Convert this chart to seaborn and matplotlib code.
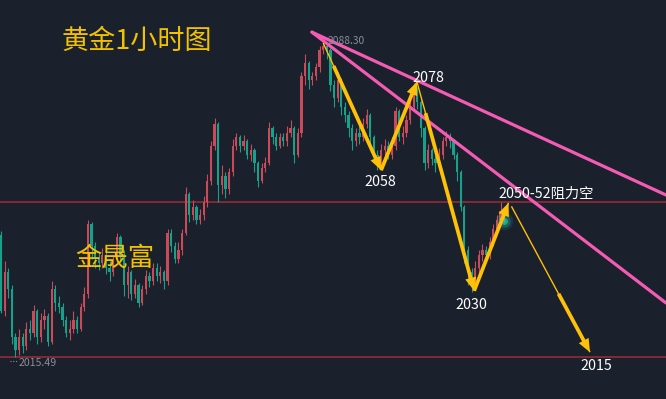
import matplotlib
matplotlib.use("Agg")
import matplotlib.pyplot as plt
import seaborn as sns
import numpy as np
import pandas as pd
from matplotlib.patches import FancyArrowPatch

# ---------------- data (gold 1h candles) ----------------
opens = [2043.5, 2026, 2035, 2031, 2020, 2017, 2020, 2018, 2022, 2021,
         2026, 2020, 2024, 2025, 2019, 2031, 2028, 2027, 2024, 2021,
         2022, 2024, 2022, 2027, 2030, 2046, 2041, 2038, 2037, 2039,
         2036, 2035, 2038, 2043, 2039, 2032, 2035, 2030, 2032, 2028,
         2031, 2034, 2033, 2036, 2034, 2035, 2033, 2044, 2041, 2038,
         2040, 2044, 2053, 2048, 2050, 2047, 2048, 2051, 2056, 2064,
         2069, 2055, 2057, 2054, 2058, 2064, 2066, 2064, 2065, 2062,
         2063, 2060, 2056, 2059, 2060, 2068, 2066, 2064, 2066, 2065,
         2067, 2068, 2062, 2067, 2080, 2083, 2079, 2080, 2082, 2086,
         2087, 2086, 2078, 2075, 2079, 2073, 2071, 2068, 2065, 2067,
         2066, 2069, 2071, 2066, 2062, 2060, 2063, 2064, 2062, 2064,
         2072, 2066, 2067, 2070, 2073, 2077, 2074, 2068, 2060, 2063,
         2061, 2060, 2062, 2065, 2066, 2065, 2062, 2058, 2050, 2040,
         2035, 2032, 2036, 2039, 2040, 2039, 2042, 2045, 2047, 2049]
closes = [2026, 2035, 2031, 2020, 2017, 2020, 2018, 2022, 2021, 2026,
          2020, 2024, 2025, 2019, 2031, 2028, 2027, 2024, 2021, 2022,
          2024, 2022, 2027, 2030, 2046, 2041, 2038, 2037, 2039, 2036,
          2035, 2038, 2043, 2039, 2032, 2035, 2030, 2032, 2028, 2031,
          2034, 2033, 2036, 2034, 2035, 2033, 2044, 2041, 2038, 2040,
          2044, 2053, 2048, 2050, 2047, 2048, 2051, 2056, 2064, 2069,
          2055, 2057, 2054, 2058, 2064, 2066, 2064, 2065, 2062, 2063,
          2060, 2056, 2059, 2060, 2068, 2066, 2064, 2066, 2065, 2067,
          2068, 2062, 2067, 2080, 2083, 2079, 2080, 2082, 2086, 2087,
          2086, 2078, 2075, 2079, 2073, 2071, 2068, 2065, 2067, 2066,
          2069, 2071, 2066, 2062, 2060, 2063, 2064, 2062, 2064, 2072,
          2066, 2067, 2070, 2073, 2077, 2074, 2068, 2060, 2063, 2061,
          2060, 2062, 2065, 2066, 2065, 2062, 2058, 2050, 2040, 2035,
          2032, 2036, 2039, 2040, 2039, 2042, 2045, 2047, 2049, 2048]
highs = [2044.5, 2037.5, 2036, 2032, 2021, 2022, 2021, 2023.5, 2024, 2027.5,
         2026.5, 2025.5, 2026.5, 2025.5, 2033, 2032, 2029.5, 2028, 2025, 2024,
         2026, 2025, 2028, 2031.5, 2047, 2046.5, 2042, 2039.5, 2040.5, 2040,
         2037.5, 2039, 2044, 2043.5, 2040, 2036.5, 2035.5, 2033.5, 2032.5, 2032,
         2035.5, 2035, 2037, 2037, 2036.5, 2035.5, 2045, 2045, 2042, 2042,
         2045, 2054.5, 2053.5, 2051.5, 2050.5, 2049.5, 2052.5, 2057.5, 2065, 2070.5,
         2069.5, 2059.5, 2058, 2059, 2065.5, 2067, 2066.5, 2066.5, 2065.5, 2064.5,
         2063.5, 2060.5, 2060, 2061.5, 2069.5, 2068.5, 2067, 2067, 2067, 2068.5,
         2070, 2068.5, 2068, 2081, 2085, 2083.5, 2081, 2083, 2087, 2088.3,
         2087.5, 2086.5, 2079, 2081, 2079.5, 2074, 2072, 2069, 2068, 2068.5,
         2070.5, 2072.5, 2071.5, 2066.5, 2063, 2064.5, 2065.5, 2065, 2066, 2073,
         2072.5, 2068.5, 2071, 2074.5, 2078.5, 2077.5, 2074.5, 2068.5, 2064.5, 2063.5,
         2062, 2063.5, 2066, 2067.5, 2067, 2065.5, 2062.5, 2058.5, 2050.5, 2041,
         2036, 2037.5, 2040, 2041.5, 2041, 2043, 2046, 2048, 2051, 2049.5]
lows = [2025.5, 2025, 2029, 2018.5, 2015.5, 2016, 2016.5, 2017, 2019.5, 2020,
        2018.5, 2019, 2022, 2018, 2018.5, 2026, 2025.5, 2022.5, 2020, 2019.5,
        2021, 2021, 2021.5, 2026, 2029, 2038, 2036, 2035.5, 2036, 2034.5,
        2033, 2034, 2037, 2037.5, 2029.5, 2029, 2028.5, 2029, 2027, 2027.5,
        2030, 2031.5, 2032, 2033, 2032.5, 2031, 2032, 2039.5, 2037, 2037,
        2039, 2043.5, 2046.5, 2047, 2046, 2046, 2047, 2050, 2055, 2063,
        2051, 2053, 2052, 2053, 2057, 2063, 2062.5, 2063, 2061, 2060.5,
        2058, 2054.5, 2055.5, 2058, 2059.5, 2064.5, 2063, 2063.5, 2064, 2064,
        2066, 2060, 2061.5, 2066, 2078, 2077, 2078, 2079, 2081, 2085,
        2084, 2076.5, 2073, 2074, 2071, 2069.5, 2066, 2063, 2064, 2064.5,
        2065, 2068, 2064, 2060.5, 2058.5, 2059, 2062, 2061, 2061, 2063,
        2065, 2064.5, 2066, 2069, 2072, 2072.5, 2066, 2058.5, 2059, 2059.5,
        2058, 2059, 2061, 2064, 2063.5, 2061, 2056, 2049, 2037, 2032,
        2030.5, 2031, 2034.5, 2037.5, 2037.5, 2038, 2041, 2044, 2046, 2046.5]

level_prices = [2051.1, 2015.5]                 # horizontal levels
trend_x = [85.9, 183.7]                         # trend lines (candle index)
trend_upper_y = [2090.1, 2052.7]
trend_lower_y = [2090.1, 2027.9]
wave_x = [89.0, 105.0, 114.9, 130.7, 140.2, 162.7]     # wave path (candle index)
wave_y = [2087.6, 2058.4, 2078.7, 2030.7, 2050.9, 2016.6]
wave_labels = ["2058", "2078", "2030", "2050-52阻力空", "2015"]
high_label, low_label = "2088.30", "2015.49"
title_text, brand_text = "黄金1小时图", "金晟富"

# ---------------- style ----------------
BG = "#1a202c"
UP = "#c94a58"
DOWN = "#17a08a"
GOLD = "#FFC107"
TXT_GOLD = "#F2C100"
PINK = "#f45cb4"
LEVEL = "#8c2b36"

sns.set_theme(style="dark", rc={"axes.facecolor": BG, "figure.facecolor": BG})
plt.rcParams["font.family"] = ["Noto Sans CJK SC", "DejaVu Sans"]

W, H = 666, 399
fig = plt.figure(figsize=(W / 100, H / 100), dpi=100)
ax = fig.add_axes([0, 0, 1, 1])
ax.set_xlim(-0.28, 183.7)
ax.set_ylim(2005.84, 2097.49)
ax.axis("off")
ax.set_facecolor(BG)

df = pd.DataFrame({"o": opens, "c": closes, "h": highs, "l": lows})
df["i"] = np.arange(len(df))
df["up"] = df["c"] >= df["o"]
cols = np.where(df["up"], UP, DOWN)

# horizontal levels
for p in level_prices:
    ax.axhline(p, color=LEVEL, lw=1.3, zorder=1)

# candles
ax.vlines(df["i"], df["l"], df["h"], colors=cols, lw=0.8, zorder=2)
body = (df["c"] - df["o"]).abs().clip(lower=0.35)
ax.bar(df["i"], body, bottom=df[["o", "c"]].min(axis=1), width=0.62,
       color=cols, linewidth=0, zorder=3)

# glow on last candle
lx, ly = df["i"].iloc[-1], 2046.7
for s, a in [(160, 0.12), (80, 0.25), (25, 0.6)]:
    ax.scatter([lx], [ly], s=s, color="#2fd3b5", alpha=a, linewidths=0, zorder=4)

# trend lines
tl = pd.DataFrame({"x": trend_x * 2, "y": trend_upper_y + trend_lower_y,
                   "line": ["u", "u", "l", "l"]})
sns.lineplot(data=tl, x="x", y="y", units="line", estimator=None,
             color=PINK, lw=2.3, ax=ax, zorder=5, legend=False)
ax.set_xlim(-0.28, 183.7)
ax.set_ylim(2005.84, 2097.49)
ax.axis("off")


def arrow(p0, p1, t0):
    ax.plot([p0[0], p1[0]], [p0[1], p1[1]], color=GOLD, lw=1.0, zorder=6,
            solid_capstyle="butt")
    s = (p0[0] + t0 * (p1[0] - p0[0]), p0[1] + t0 * (p1[1] - p0[1]))
    ar = FancyArrowPatch(s, p1, arrowstyle="simple,head_length=0.95,head_width=0.8,tail_width=0.27",
                         mutation_scale=10, color=GOLD, lw=0, shrinkA=0, shrinkB=0, zorder=7)
    ax.add_patch(ar)


pts = list(zip(wave_x, wave_y))
arrow(pts[0], pts[1], 0.18)
arrow(pts[1], pts[2], 0.0)
arrow(pts[2], pts[3], 0.15)
arrow(pts[3], pts[4], 0.0)
arrow((pts[4][0] + 0.8, pts[4][1] - 0.8), pts[5], 0.6)

# ---------------- texts (pixel positions converted to axes fractions) ----------------
def fx(px):
    return px / W


def fy(py):
    return 1 - py / H


ax.text(fx(62), fy(41.5), title_text, color=TXT_GOLD, fontsize=19.5,
        va="center", ha="left", transform=ax.transAxes, zorder=8)
ax.text(fx(75), fy(258), brand_text, color=TXT_GOLD, fontsize=19,
        va="center", ha="left", transform=ax.transAxes, zorder=8)

lbl = dict(color="white", fontsize=10.3, va="center", transform=ax.transAxes, zorder=8)
ax.text(fx(380), fy(181.5), wave_labels[0], ha="center", **lbl)
ax.text(fx(428), fy(77.5), wave_labels[1], ha="center", **lbl)
ax.text(fx(471), fy(305), wave_labels[2], ha="center", **lbl)
ax.text(fx(498), fy(193.5), wave_labels[3], ha="left", **lbl)
ax.text(fx(596), fy(366), wave_labels[4], ha="center", **lbl)

gray = dict(color="#8a8f99", va="center", ha="left", transform=ax.transAxes, zorder=8)
ax.text(fx(328), fy(40.5), high_label, fontsize=7.4, **gray)
ax.text(fx(19), fy(363.5), low_label, fontsize=7.6, **gray)
ax.plot([fx(10), fx(18)], [fy(361), fy(361)], color="#8a8f99", lw=0.8, ls=(0, (1, 1.5)),
        transform=ax.transAxes, zorder=8)

fig.savefig("out.png", dpi=100, facecolor=BG)
